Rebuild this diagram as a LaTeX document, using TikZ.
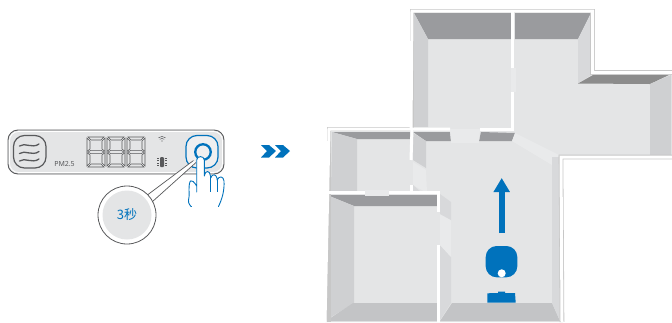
\documentclass[tikz,border=0pt]{standalone}
\usepackage{fontspec}
\setmainfont{Noto Sans}
\newfontfamily\cjkfont{Noto Sans CJK SC}
\usetikzlibrary{arrows.meta}
\definecolor{accent}{HTML}{0072BC}
\definecolor{floorgray}{HTML}{E4E5E6}
\definecolor{doorgray}{HTML}{E9EAEB}
\definecolor{walldark}{HTML}{9A9B9E}
\definecolor{wallmid}{HTML}{C3C4C6}
\definecolor{wallside}{HTML}{CFD0D2}
\definecolor{wallsoft}{HTML}{D8D9DB}
\definecolor{inkgray}{HTML}{58595B}
\tikzset{
  vwall/.style={line width=3pt,draw=white},
  vrim/.style={line width=4.6pt,draw=black!22},
  vdoor/.style={fill=doorgray},
  vpanel/.style={draw=inkgray,line width=0.9pt,fill=floorgray,rounded corners=10pt},
  vkey/.style={line width=1.2pt,rounded corners=10pt},
  vseg/.style={draw=inkgray,line width=0.55pt,fill=floorgray},
  vwave/.style={draw=inkgray,line width=1.3pt,line cap=round},
  vhand/.style={draw=accent,line width=0.9pt,fill=white,line join=round},
  varr/.style={-{Triangle[length=14pt,width=15.5pt]},line width=5.7pt,draw=accent},
  vchev/.style={fill=accent}
}
\begin{document}
\begin{tikzpicture}[x=1pt,y=-1pt]
  \useasboundingbox (0,0) rectangle (672,322);
  % floor
  \fill[floorgray] (412,11)--(592.5,11)--(592.5,72.5)--(672,72.5)--(672,157)--(561,157)--(562,322)--(325,322)--(329,129)--(412,129)--cycle;
  % upper rooms
  \fill[walldark] (414,13)--(511,13)--(511,39)--(428,39)--cycle;
  \fill[walldark] (515,13)--(591,13)--(578,39)--(515,39)--cycle;
  \fill[wallside] (414,13)--(428,39)--(428,127)--(414,127)--cycle;
  \fill[wallsoft] (591,13)--(578,39)--(578,83)--(593,74)--cycle;
  \fill[black!45] (578,83.5)--(650,84)--(670,74.5)--(594,74.5)--cycle;
  \fill[wallside] (650,84)--(671,75)--(671,155)--(650,155)--cycle;
  % middle band
  \fill[walldark] (332,132)--(410,132)--(410,139)--(357,139)--cycle;
  \fill[wallside] (332,132)--(357,139)--(357,192)--(331,192)--cycle;
  \fill[walldark] (413,132)--(450,132)--(451,141)--(426,141)--cycle;
  \fill[walldark] (481,132)--(515,133)--(512,141)--(479,141)--cycle;
  \fill[vdoor] (450,129)--(480,129)--(479,143)--(451,143)--cycle;
  \fill[wallside] (413,133)--(426,141)--(426,168)--(413,160)--cycle;
  \fill[vdoor] (515,133)--(512,141)--(552,165)--(559,155)--cycle;
  \fill[vdoor] (413,162)--(426,170)--(427,193)--(413,185)--cycle;
  \fill[wallsoft] (413,185)--(421,192)--(413,192)--cycle;
  % lower rooms
  \fill[walldark] (327,195)--(437,195)--(437,206)--(354,206)--cycle;
  \fill[wallside] (327,195)--(354,206)--(354,303)--(326,320)--cycle;
  \fill[wallmid] (326,321)--(353,303)--(437,303)--(437,321)--cycle;
  \fill[wallmid] (440,321)--(452,303)--(552,303)--(560,321)--cycle;
  \fill[wallsoft] (552,157)--(560,157)--(560,321)--(552,303)--cycle;
  \fill[wallsoft] (440,245)--(451,257)--(451,303)--(440,320)--cycle;
  \fill[vdoor] (440,214)--(451,220)--(451,257)--(440,245)--cycle;
  \fill[wallsoft] (440,194)--(451,202)--(451,220)--(440,214)--cycle;
  % walls
  \draw[vrim] (329,322) -- (329,129) -- (412,129) -- (412,11) -- (592.5,11) -- (592.5,72.5) -- (672,72.5);
  \draw[vrim] (672,157) -- (561,157) -- (562,322);
  \draw[vwall] (325,322) -- (329,129) -- (450,129);
  \draw[vwall] (411,129) -- (412,11) -- (592.5,11) -- (592.5,72.5) -- (672,72.5);
  \draw[vwall] (672,157) -- (561,157) -- (562,322);
  \draw[vwall] (412,129) -- (411,160);
  \draw[vwall] (411,185) -- (411,193);
  \draw[vwall] (480,129) -- (512.5,129) -- (512.5,92);
  \draw[vwall] (512.5,68) -- (512.5,11);
  \draw[vwall] (328,192.5) -- (365,192.5);
  \draw[vwall] (389,192.5) -- (438,192.5) -- (438,212);
  \draw[vwall] (438,245) -- (438,322);
  \fill[vdoor] (365,190) rectangle (389,196);
  \fill[vdoor] (511,68) rectangle (516,92);
  % robot
  \fill[accent,rounded corners=11pt] (485.7,246) rectangle (517.3,277.3);
  \node[circle,fill=white,inner sep=0pt,minimum size=8pt] (hole) at (501.7,273.3) {};
  \fill[accent] (487.3,293.3)--(498,293)--(498,291.5)--(505,291.5)--(505,293)--(515,293)--(515.7,302.7)--(487.3,302.7)--cycle;
  \coordinate (runa) at (501.7,233);
  \coordinate (runb) at (501.7,178);
  \draw[varr] (runa) -- (runb);
  % chevrons
  \foreach \dx in {0,14}{
    \fill[vchev,shift={(\dx,0)}] (261,145)--(269,145)--(276,151)--(269,157.5)--(261,157.5)--(267,151)--cycle;
  }
  % panel
  \draw[vpanel] (8,130) rectangle (224,174);
  \draw[white,line width=0.8pt,rounded corners=9pt] (9.5,131.5) rectangle (222.5,172.5);
  \draw[vkey,draw=inkgray,rounded corners=11pt] (13.5,135.5) rectangle (46,168);
  \foreach \wy in {145,152.5,160}{
    \draw[vwave] (19.5,\wy+1) .. controls (25,\wy-3) and (32,\wy+4) .. (39,\wy-1);
  }
  \node[text=inkgray,font=\fontsize{7}{8}\selectfont,inner sep=0pt] (pm) at (64.5,164) {PM2.5};
  \foreach \dx in {87,107,127}{
    \begin{scope}[shift={(\dx,137)}]
      \path[vseg] (1,0)--(17,0)--(14,3)--(4,3)--cycle;
      \path[vseg] (0,1)--(3,4)--(3,12)--(0,14.5)--cycle;
      \path[vseg] (18,1)--(15,4)--(15,12)--(18,14.5)--cycle;
      \path[vseg] (1,15)--(4,13.3)--(14,13.3)--(17,15)--(14,16.7)--(4,16.7)--cycle;
      \path[vseg] (0,15.5)--(3,18)--(3,26)--(0,29)--cycle;
      \path[vseg] (18,15.5)--(15,18)--(15,26)--(18,29)--cycle;
      \path[vseg] (1,30)--(4,27)--(14,27)--(17,30)--cycle;
    \end{scope}
  }
  % wifi and battery marks
  \draw[inkgray,line width=0.5pt] (158.5,137.8) .. controls (160.5,136) and (163.5,136) .. (165.5,137.8);
  \draw[inkgray,line width=0.5pt] (159.8,139.3) .. controls (161,138.2) and (163,138.2) .. (164.2,139.3);
  \fill[inkgray] (162,141) circle (0.7pt);
  \fill[inkgray,rounded corners=1pt] (160,157) rectangle (164,167);
  \foreach \ty in {158,160.5,163,165.5}{
    \draw[inkgray,line width=0.5pt] (157,\ty) -- (158.6,\ty);
    \draw[inkgray,line width=0.5pt] (165.4,\ty) -- (167,\ty);
  }
  % power key
  \draw[vkey,draw=accent,fill=floorgray!60!white,rounded corners=11pt] (186,135.5) rectangle (218,168);
  \node[circle,draw=accent,line width=2.3pt,minimum size=15.5pt,inner sep=0pt] (ring) at (203,152) {};
  % callout
  \coordinate (tipa) at (193.5,160.5);
  \coordinate (tipb) at (196,162.5);
  \coordinate (basea) at (146,196);
  \coordinate (baseb) at (152,202);
  \fill[white] (basea) -- (tipa) -- (tipb) -- (baseb) -- cycle;
  \draw[inkgray,line width=0.7pt] (basea) -- (tipa);
  \draw[inkgray,line width=0.7pt] (baseb) -- (tipb);
  \node[circle,draw=inkgray,line width=0.8pt,fill=white,minimum size=58pt,inner sep=0pt] (ringout) at (127,215) {};
  \node[circle,fill=floorgray,minimum size=49pt,inner sep=0pt,text=accent,font=\fontsize{13}{15}\selectfont\cjkfont] (secs) at (127,215) {3秒};
  % hand
  \path[vhand] (196.7,192) -- (196.7,160) .. controls (196.7,155.5) and (204.3,155.5) .. (204.3,160) -- (204.3,176)
     .. controls (205,170) and (210,170) .. (210.5,176) -- (210.7,178)
     .. controls (212,173.5) and (216,174) .. (217,178) -- (217.2,180)
     .. controls (219,175.5) and (223.5,176) .. (224,181) .. controls (224.5,190) and (222.5,198) .. (218.5,206.5)
     -- (191,206.5) .. controls (186,200) and (190,202) .. (189,190) .. controls (189,180) and (191,177) .. (196.7,186) -- cycle;
  \draw[white,line width=1.4pt] (191.5,206.8) -- (218,206.8);
  \draw[accent,line width=0.9pt] (210.6,177) -- (210.6,192) (217.1,179) -- (217.1,192);
\end{tikzpicture}
\end{document}
